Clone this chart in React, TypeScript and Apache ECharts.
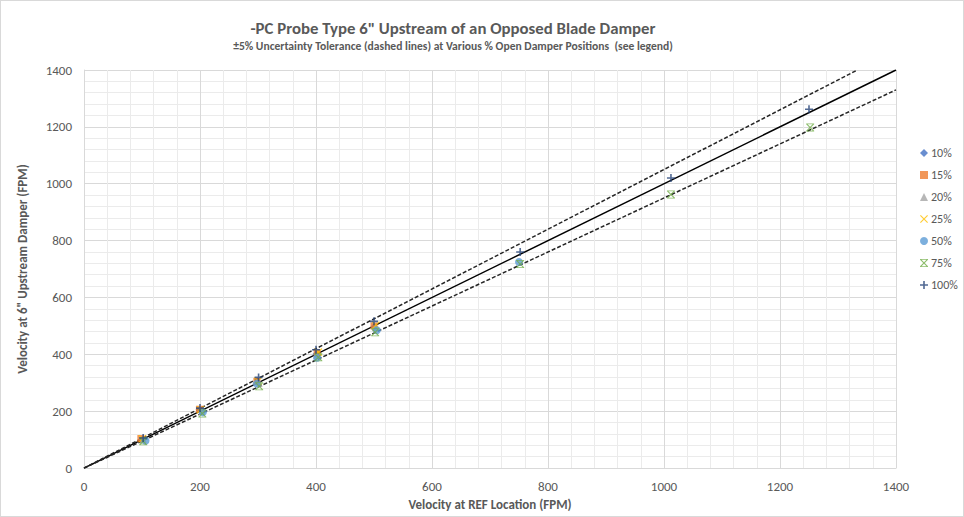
import React, { useEffect, useRef } from "react";
import * as echarts from "echarts";

const TITLE = "-PC Probe Type 6\" Upstream of an Opposed Blade Damper";
const SUBTITLE = "±5% Uncertainty Tolerance (dashed lines) at Various % Open Damper Positions  (see legend)";
const X_NAME = "Velocity at REF Location (FPM)";
const Y_NAME = "Velocity at 6\" Upstream Damper (FPM)";

const seriesNames = ["10%", "15%", "20%", "25%", "50%", "75%", "100%"];
const seriesColors = ["#4472C4", "#ED7D31", "#A5A5A5", "#FFC000", "#5B9BD5", "#70AD47", "#264478"];

const d10 = [[100, 101], [200, 202], [300, 302], [400, 401], [500, 498]];
const d15 = [[98, 104], [199, 207], [298, 305], [402, 405], [500, 500]];
const d20 = [[102, 99], [203, 199], [302, 298], [401, 397], [502, 494]];
const d25 = [[101, 103], [201, 205], [300, 306], [404, 408], [503, 502]];
const d50 = [[106, 96], [205, 196], [298, 297], [402, 388], [505, 485], [750, 725]];
const d75 = [[102, 94], [204, 192], [302, 288], [404, 390], [502, 478], [752, 718], [1012, 962], [1252, 1198]];
const d100 = [[102, 106], [200, 211], [301, 319], [400, 416], [500, 516], [752, 760], [1012, 1020], [1250, 1262]];

const refLine = [[0, 0], [1400, 1400]];
const upperTol = [[0, 0], [1333.33, 1400]];
const lowerTol = [[0, 0], [1400, 1330]];

const PLUS = "path://M4,0 H6 V4 H10 V6 H6 V10 H4 V6 H0 V4 H4 Z";
const XMARK = "path://M0,1 L1,0 L5,4 L9,0 L10,1 L6,5 L10,9 L9,10 L5,6 L1,10 L0,9 L4,5 Z";
const STAR = "path://M0,1 L1,0 L5,4 L9,0 L10,1 L6,5 L10,9 L9,10 L5,6 L1,10 L0,9 L4,5 Z M0,0 H10 V1 H0 Z M0,9 H10 V10 H0 Z";

const seriesData = [d10, d15, d20, d25, d50, d75, d100];
const symbols = ["diamond", "rect", "triangle", XMARK, "circle", STAR, PLUS];
const sizes = [7, 7, 7, 8, 8, 8, 8];

const FONT = "Carlito, 'Liberation Sans Narrow', 'Open Sans', sans-serif";

export default function App() {
  const ref = useRef<HTMLDivElement>(null);
  useEffect(() => {
    if (!ref.current) return;
    const chart = echarts.init(ref.current, null, { renderer: "svg" });
    const scatter = seriesNames.map((name, i) => ({
      name,
      type: "scatter",
      data: seriesData[i],
      symbol: symbols[i],
      symbolSize: sizes[i],
      itemStyle: { color: seriesColors[i] },
      z: 5,
    }));
    chart.setOption({
      animation: false,
      backgroundColor: "#ffffff",
      textStyle: { fontFamily: FONT },
      graphic: [
        {
          type: "text",
          x: 452,
          y: 27,
          style: {
            text: TITLE,
            fontFamily: FONT,
            fontSize: 16.8,
            fontWeight: "bold",
            fill: "#595959",
            align: "center",
            verticalAlign: "middle",
          },
        },
        {
          type: "text",
          x: 452,
          y: 45,
          style: {
            text: SUBTITLE,
            fontFamily: FONT,
            fontSize: 11.6,
            fontWeight: "bold",
            fill: "#595959",
            align: "center",
            verticalAlign: "middle",
          },
        },
      ],
      legend: {
        orient: "vertical",
        left: 914,
        top: 141,
        itemGap: 10,
        itemWidth: 8,
        itemHeight: 8,
        data: seriesNames,
        textStyle: { fontFamily: FONT, fontSize: 12, color: "#595959", padding: [0, 0, 0, -2] },
      },
      grid: { left: 83, right: 67, top: 69, bottom: 46 },
      xAxis: {
        type: "value",
        min: 0,
        max: 1400,
        interval: 200,
        name: X_NAME,
        nameLocation: "middle",
        nameGap: 23,
        nameTextStyle: { fontFamily: FONT, fontSize: 13, fontWeight: "bold", color: "#595959" },
        axisLine: { show: true, lineStyle: { color: "#d9d9d9" } },
        axisTick: { show: false },
        axisLabel: { fontFamily: FONT, fontSize: 13, color: "#595959", margin: 12, formatter: (v: number) => String(v) },
        splitLine: { show: true, lineStyle: { color: "#d9d9d9", width: 1 } },
        minorTick: { show: false, splitNumber: 5 },
        minorSplitLine: { show: true, lineStyle: { color: "#ebebeb", width: 1 } },
      },
      yAxis: {
        type: "value",
        min: 0,
        max: 1400,
        interval: 200,
        name: Y_NAME,
        nameLocation: "middle",
        nameGap: 55,
        nameTextStyle: { fontFamily: FONT, fontSize: 13, fontWeight: "bold", color: "#595959" },
        axisLine: { show: true, lineStyle: { color: "#d9d9d9" } },
        axisTick: { show: false },
        axisLabel: { fontFamily: FONT, fontSize: 13, color: "#595959", margin: 12, formatter: (v: number) => String(v) },
        splitLine: { show: true, lineStyle: { color: "#d9d9d9", width: 1 } },
        minorTick: { show: false, splitNumber: 5 },
        minorSplitLine: { show: true, lineStyle: { color: "#ebebeb", width: 1 } },
      },
      series: [
        {
          name: "ref",
          type: "line",
          data: refLine,
          showSymbol: false,
          lineStyle: { color: "#000000", width: 1.5 },
          z: 3,
        },
        {
          name: "upper",
          type: "line",
          data: upperTol,
          showSymbol: false,
          lineStyle: { color: "#262626", width: 1.5, type: [4, 2] },
          z: 3,
        },
        {
          name: "lower",
          type: "line",
          data: lowerTol,
          showSymbol: false,
          lineStyle: { color: "#262626", width: 1.5, type: [4, 2] },
          z: 3,
        },
        ...scatter,
      ],
    });
    return () => chart.dispose();
  }, []);
  return (
    <div
      style={{
        position: "fixed",
        left: 0,
        top: 0,
        width: 964,
        height: 517,
        boxSizing: "border-box",
        border: "1px solid #d9d9d9",
        background: "#fff",
      }}
    >
      <div ref={ref} style={{ width: 962, height: 515 }} />
    </div>
  );
}
